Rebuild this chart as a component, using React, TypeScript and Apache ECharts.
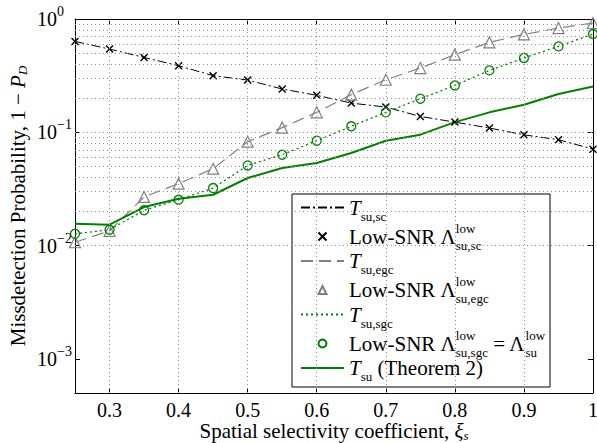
import React, { useEffect, useRef } from 'react';
import * as echarts from 'echarts';

const xValues = [0.25, 0.3, 0.35, 0.4, 0.45, 0.5, 0.55, 0.6, 0.65, 0.7, 0.75, 0.8, 0.85, 0.9, 0.95, 1.0];
const scValues = [0.634, 0.543, 0.458, 0.387, 0.316, 0.289, 0.241, 0.212, 0.181, 0.167, 0.138, 0.123, 0.109, 0.095, 0.086, 0.071];
const egcValues = [0.0107, 0.0135, 0.0269, 0.0352, 0.0477, 0.0826, 0.110, 0.150, 0.215, 0.291, 0.369, 0.484, 0.622, 0.731, 0.832, 0.922];
const sgcValues = [0.0127, 0.0138, 0.0205, 0.0254, 0.0322, 0.0510, 0.0634, 0.0843, 0.113, 0.150, 0.198, 0.259, 0.352, 0.453, 0.573, 0.737];
const tsuValues = [0.0156, 0.0153, 0.0219, 0.0259, 0.0281, 0.0395, 0.0484, 0.0536, 0.0656, 0.0843, 0.0953, 0.123, 0.150, 0.175, 0.218, 0.254];
const xTickValues = [0.3, 0.4, 0.5, 0.6, 0.7, 0.8, 0.9, 1.0];
const yGridValues = [
  6e-4, 7e-4, 8e-4, 9e-4,
  1e-3, 2e-3, 3e-3, 4e-3, 5e-3, 6e-3, 7e-3, 8e-3, 9e-3,
  1e-2, 2e-2, 3e-2, 4e-2, 5e-2, 6e-2, 7e-2, 8e-2, 9e-2,
  1e-1, 2e-1, 3e-1, 4e-1, 5e-1, 6e-1, 7e-1, 8e-1, 9e-1,
];
const legendLabels: Record<string, string> = {
  Tsc: '{it|T}{sub|su,sc}',
  Lsc: '{n|Low-SNR Λ}{supz|low}{sub|su,sc}',
  Tegc: '{it|T}{sub|su,egc}',
  Legc: '{n|Low-SNR Λ}{supz|low}{sub|su,egc}',
  Tsgc: '{it|T}{sub|su,sgc}',
  Lsgc: '{n|Low-SNR Λ}{supz|low}{sub|su,sgc}{n| = Λ}{supz|low}{sub|su}',
  Tsu: '{it|T}{sub|su}{n| (Theorem 2)}',
};

const FONT = "'Liberation Serif', 'Times New Roman', serif";
const BLACK = '#000000';
const GRAY = '#808080';
const GREEN = '#008000';

const pairs = (ys: number[]) => xValues.map((x, i) => [x, ys[i]]);

const makeRich = (big: number, small: number, shiftH: number) => ({
  n: { fontFamily: FONT, fontSize: big, lineHeight: 20, color: BLACK },
  it: { fontFamily: FONT, fontSize: big, lineHeight: 20, fontStyle: 'italic', color: BLACK },
  sub: { fontFamily: FONT, fontSize: small, lineHeight: 20, height: shiftH, verticalAlign: 'bottom', color: BLACK },
  sup: { fontFamily: FONT, fontSize: small, lineHeight: 20, height: shiftH, verticalAlign: 'top', color: BLACK },
  supz: { fontFamily: FONT, fontSize: small, lineHeight: 20, height: shiftH, verticalAlign: 'top', width: 0, color: BLACK },
  itsub: { fontFamily: FONT, fontSize: small, lineHeight: 20, height: shiftH, verticalAlign: 'bottom', fontStyle: 'italic', color: BLACK },
});
const richLegend = makeRich(21, 13, 3);
const richName = makeRich(21, 13, 12);
const richTick = makeRich(20, 14, 5);

export default function App() {
  const ref = useRef<HTMLDivElement>(null);
  useEffect(() => {
    if (!ref.current) return;
    const chart = echarts.init(ref.current, null, { renderer: 'svg' });
    const axisCommon = {
      axisLine: { show: true, onZero: false, lineStyle: { color: BLACK, width: 1 } },
      splitLine: { show: false },
    };
    const option: any = {
      animation: false,
      backgroundColor: '#ffffff',
      grid: { left: 75, right: 4, top: 19, bottom: 50, containLabel: false, outerBoundsMode: 'none' },
      xAxis: [
        {
          type: 'value', min: 0.25, max: 1, position: 'bottom',
          ...axisCommon,
          axisTick: { show: true, inside: true, length: 5, customValues: xTickValues, lineStyle: { color: BLACK } },
          axisLabel: {
            show: true, customValues: xTickValues, margin: 7,
            fontFamily: FONT, fontSize: 20, color: BLACK,
            formatter: (v: number) => String(Math.round(v * 10) / 10),
          },
          name: '{n|Spatial selectivity coefficient, }{it|ξ}{itsub|s}',
          nameLocation: 'middle', nameGap: 28, nameMoveOverlap: false,
          nameTextStyle: { fontFamily: FONT, fontSize: 21, rich: richName },
        },
        {
          type: 'value', min: 0.25, max: 1, position: 'top',
          ...axisCommon,
          axisTick: { show: true, inside: true, length: 5, customValues: xTickValues, lineStyle: { color: BLACK } },
          axisLabel: { show: false },
        },
      ],
      yAxis: [
        {
          type: 'log', logBase: 10, min: 0.0005, max: 1, position: 'left',
          ...axisCommon,
          axisTick: { show: true, inside: true, length: 5, lineStyle: { color: BLACK } },
          axisLabel: {
            show: true, align: 'left', margin: 38,
            fontFamily: FONT, fontSize: 20,
            formatter: (v: number) => {
              const l = Math.log10(v);
              const e = Math.round(l);
              if (Math.abs(l - e) > 1e-6) return '';
              return `{n|10}{sup|${e === 0 ? '0' : '−' + (-e)}}`;
            },
            rich: richTick,
          },
          name: '{n|Missdetection Probability, 1 − }{it|P}{itsub|D}',
          nameLocation: 'middle', nameGap: 47, nameMoveOverlap: false,
          nameTextStyle: { fontFamily: FONT, fontSize: 21, rich: richName },
        },
        {
          type: 'log', logBase: 10, min: 0.0005, max: 1, position: 'right',
          ...axisCommon,
          axisTick: { show: true, inside: true, length: 5, lineStyle: { color: BLACK } },
          axisLabel: { show: false },
        },
      ],
      legend: {
        show: true,
        orient: 'vertical',
        left: 292, top: 194,
        padding: [3, 5, 4, 8],
        itemGap: -1,
        itemWidth: 43, itemHeight: 10,
        backgroundColor: '#ffffff',
        borderColor: BLACK, borderWidth: 1, borderRadius: 0,
        selectedMode: false,
        data: [
          { name: 'Tsc', itemStyle: { opacity: 0 } },
          { name: 'Lsc' },
          { name: 'Tegc', itemStyle: { opacity: 0 } },
          { name: 'Legc' },
          { name: 'Tsgc', itemStyle: { opacity: 0 } },
          { name: 'Lsgc' },
          { name: 'Tsu', itemStyle: { opacity: 0 } },
        ],
        formatter: (name: string) => legendLabels[name] || name,
        textStyle: { width: 235, fontFamily: FONT, fontSize: 21, color: BLACK, rich: richLegend },
      },
      series: [
        {
          name: 'grid', type: 'line', data: pairs(tsuValues), symbol: 'none', silent: true, z: 1,
          lineStyle: { opacity: 0, width: 0 },
          markLine: {
            silent: true, symbol: ['none', 'none'], animation: false,
            label: { show: false },
            lineStyle: { color: '#909090', width: 1, type: [1, 3] },
            emphasis: { disabled: true },
            data: [
              ...yGridValues.map((v) => ({ yAxis: v })),
              ...xTickValues.filter((v) => v < 1).map((v) => ({ xAxis: v })),
            ],
          },
        },
        {
          name: 'Tsc', type: 'line', data: pairs(scValues), symbol: 'none', z: 3,
          lineStyle: { color: BLACK, width: 1, type: [9, 3, 2, 3] },
          itemStyle: { color: BLACK },
        },
        {
          name: 'Lsc', type: 'line', data: pairs(scValues), z: 4,
          symbol: 'path://M0,0L10,10M10,0L0,10', symbolSize: 7, showAllSymbol: true,
          lineStyle: { opacity: 0, width: 0 },
          itemStyle: { color: 'rgba(0,0,0,0)', borderColor: BLACK, borderWidth: 1.4 },
        },
        {
          name: 'Tegc', type: 'line', data: pairs(egcValues), symbol: 'none', z: 3,
          lineStyle: { color: GRAY, width: 1.2, type: [12, 6] },
          itemStyle: { color: GRAY },
        },
        {
          name: 'Legc', type: 'line', data: pairs(egcValues), z: 4,
          symbol: 'triangle', symbolSize: 11, showAllSymbol: true,
          lineStyle: { opacity: 0, width: 0 },
          itemStyle: { color: 'rgba(0,0,0,0)', borderColor: GRAY, borderWidth: 1.2 },
        },
        {
          name: 'Tsgc', type: 'line', data: pairs(sgcValues), symbol: 'none', z: 3,
          lineStyle: { color: GREEN, width: 1.3, type: [2, 3] },
          itemStyle: { color: GREEN },
        },
        {
          name: 'Lsgc', type: 'line', data: pairs(sgcValues), z: 4,
          symbol: 'circle', symbolSize: 9, showAllSymbol: true,
          lineStyle: { opacity: 0, width: 0 },
          itemStyle: { color: 'rgba(0,0,0,0)', borderColor: GREEN, borderWidth: 1.3 },
        },
        {
          name: 'Tsu', type: 'line', data: pairs(tsuValues), symbol: 'none', z: 3,
          lineStyle: { color: GREEN, width: 2 },
          itemStyle: { color: GREEN },
        },
      ],
    };
    chart.setOption(option);
    return () => chart.dispose();
  }, []);
  return <div ref={ref} style={{ width: 597, height: 443, position: 'absolute', left: 0, top: 0 }} />;
}
